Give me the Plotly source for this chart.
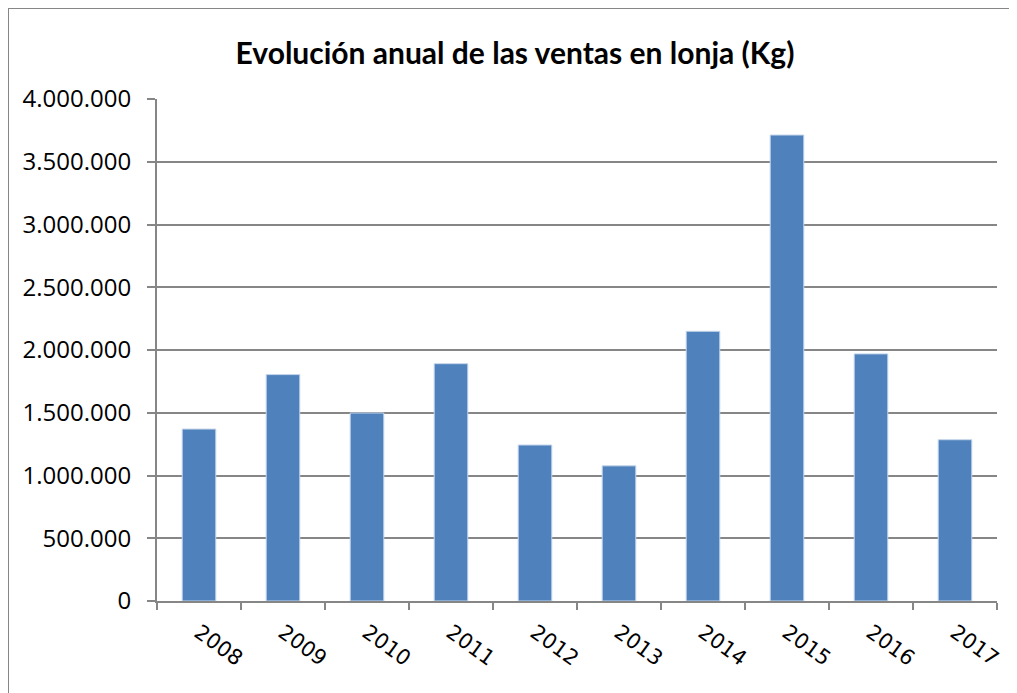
import plotly.graph_objects as go

# Ventas anuales en lonja (Kg)
years = ["2008", "2009", "2010", "2011", "2012", "2013", "2014", "2015", "2016", "2017"]
sales_kg = [1370000, 1804000, 1498000, 1891000, 1243000, 1077000, 2149000, 3713000, 1969000, 1285000]

y_ticks = [0, 500000, 1000000, 1500000, 2000000, 2500000, 3000000, 3500000, 4000000]

GRID = "#868686"
BAR = "#4F81BD"

# page body has a small margin, so the figure box is shifted by that much
L, R, T, B = 149, 28, 91, 100
W, H = 1017, 693
PW, PH = W - L - R, H - T - B

# chart frame: only the left and top edges are inside the picture
fx0 = (0 - L) / PW
fx1 = (1100 - L) / PW
fy0 = (H - B - 760) / PH
fy1 = (H - B - 0) / PH
frame = [
    dict(type="line", xref="paper", yref="paper", x0=fx0, x1=fx0, y0=fy0, y1=fy1,
         line=dict(color=GRID, width=2), layer="below"),
    dict(type="line", xref="paper", yref="paper", x0=fx0, x1=fx1, y0=fy1, y1=fy1,
         line=dict(color=GRID, width=2), layer="below"),
]

fig = go.Figure(
    go.Bar(
        x=years,
        y=sales_kg,
        marker=dict(color=BAR, line=dict(color="#c5d6ea", width=1)),
    )
)

fig.update_layout(
    width=W,
    height=H,
    margin=dict(l=L, r=R, t=T, b=B),
    paper_bgcolor="white",
    plot_bgcolor="white",
    separators=",.",
    bargap=0.6,
    showlegend=False,
    title=dict(
        text="<b>Evolución anual de las ventas en lonja (Kg)</b>",
        x=507 / W,
        xref="container",
        xanchor="center",
        y=1 - 45 / H,
        yref="container",
        yanchor="middle",
        font=dict(family="Lato", size=30, color="black"),
    ),
    xaxis=dict(
        type="category",
        showline=True,
        linecolor=GRID,
        linewidth=2,
        ticks="outside",
        tickson="boundaries",
        ticklen=7,
        tickwidth=2,
        tickcolor=GRID,
        tickangle=36,
        tickfont=dict(family="DejaVu Sans", size=21, color="black"),
        ticklabelstandoff=9,
        showgrid=False,
    ),
    yaxis=dict(
        range=[0, 4000000],
        tickvals=y_ticks,
        tickformat=",d",
        showline=True,
        linecolor=GRID,
        linewidth=2,
        ticks="outside",
        ticklen=8,
        tickwidth=2,
        tickcolor=GRID,
        showgrid=True,
        gridcolor=GRID,
        gridwidth=2,
        zeroline=False,
        tickfont=dict(family="Open Sans", size=24, color="black"),
        ticklabelstandoff=11,
    ),
    shapes=frame,
)

fig.write_html("out.html")
